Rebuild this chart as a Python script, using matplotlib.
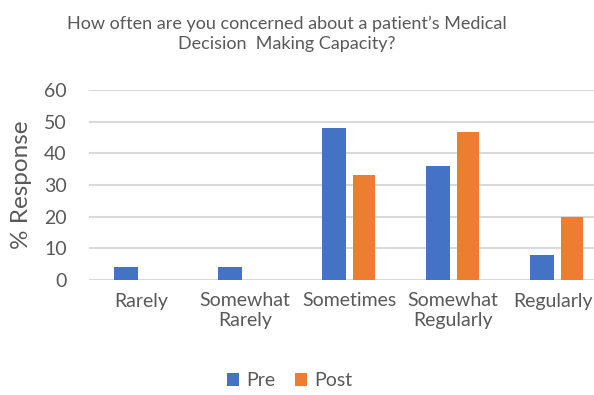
import matplotlib.pyplot as plt
import matplotlib.transforms as mtransforms
import numpy as np

plt.rcParams['font.family'] = ['Lato', 'DejaVu Sans']

categories = ["Rarely", "Somewhat\nRarely", "Sometimes", "Somewhat\nRegularly", "Regularly"]
pre = [4, 4, 48, 36, 8]
post = [0, 0, 33.3, 46.7, 20]
series_names = ["Pre", "Post"]
yticks = [0, 10, 20, 30, 40, 50, 60]

blue = '#4472C4'
orange = '#ED7D31'
grey = '#595959'

fig = plt.figure(figsize=(5.94, 3.95), dpi=100)
# plot area runs past the right edge, like the cropped original
ax = fig.add_axes([89 / 594, 1 - 280 / 395, 520 / 594, 190 / 395])

x = np.arange(len(categories))
ax.bar(x - 0.14, pre, width=0.23, color=blue, label=series_names[0], zorder=3)
ax.bar(x + 0.145, post, width=0.215, color=orange, label=series_names[1], zorder=3)

ax.set_xlim(-0.5, len(categories) - 0.5)
ax.set_ylim(0, 60)
ax.set_yticks(yticks)
ax.yaxis.grid(True, color='#D9D9D9', linewidth=1.5, zorder=0)
ax.set_axisbelow(True)
for s in ax.spines.values():
    s.set_visible(False)
ax.axhline(0, color='#D9D9D9', linewidth=1.5, zorder=2)

ax.set_xticks(x)
ax.set_xticklabels(categories, fontsize=14, color=grey, linespacing=1.2)
ax.tick_params(axis='both', length=0, labelsize=14, labelcolor=grey)
ax.tick_params(axis='x', pad=9)
ax.tick_params(axis='y', pad=16)

# nudge the last label so it stays inside the picture
last = ax.get_xticklabels()[-1]
last.set_transform(last.get_transform() + mtransforms.ScaledTranslation(-4 / 100, 0, fig.dpi_scale_trans))

ax.set_ylabel("% Response", fontsize=17.5, color=grey, labelpad=9)

fig.text(0.483, 0.96, "How often are you concerned about a patient\u2019s Medical\nDecision  Making Capacity?",
         ha='center', va='top', fontsize=13, color=grey, linespacing=1.3)

fig.legend(loc='center', bbox_to_anchor=(290 / 594, 1 - 381 / 395), ncol=2, frameon=False,
           fontsize=14, labelcolor=grey, handlelength=0.6, handleheight=0.6,
           handletextpad=0.4, columnspacing=1.0)

fig.savefig('out.png', dpi=100)
